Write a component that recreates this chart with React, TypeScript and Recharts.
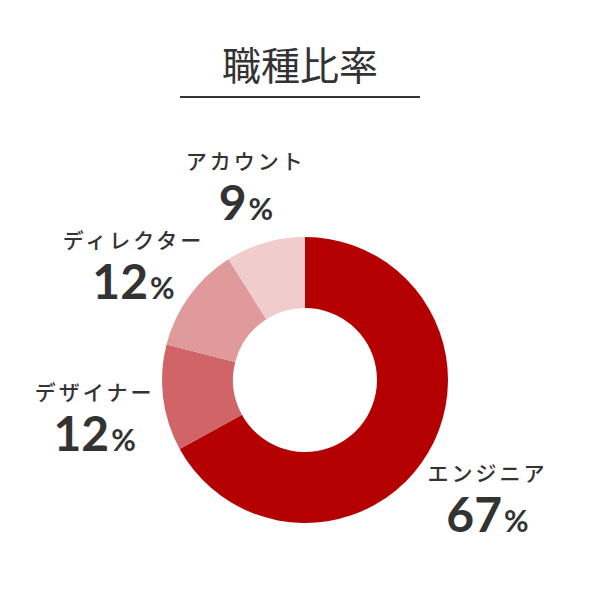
import React from "react";
import { PieChart, Pie, Cell } from "recharts";

const categories = ["エンジニア", "デザイナー", "ディレクター", "アカウント"];
const values = [67, 12, 12, 9];
const colors = ["#b40000", "#d16466", "#e19a9b", "#f0cccd"];

const data = categories.map((name, i) => ({ name, value: values[i] }));

const RAD = Math.PI / 180;

const renderLabel = (props: any) => {
  const { cx, cy, midAngle, name, value } = props;
  const r = 212;
  const x = cx + r * Math.cos(-midAngle * RAD);
  const y = cy + r * Math.sin(-midAngle * RAD);
  return (
    <g>
      <text
        x={x}
        y={y - 16}
        textAnchor="middle"
        dominantBaseline="central"
        fill="#333"
        fontSize={21}
        fontWeight={500}
        fontFamily="'Noto Sans CJK JP', sans-serif"
        letterSpacing={3}
      >
        {name}
      </text>
      <text
        x={x}
        y={y + 44}
        textAnchor="middle"
        fill="#333"
        fontFamily="Lato, sans-serif"
        fontWeight={700}
      >
        <tspan fontSize={48}>{value}</tspan>
        <tspan fontSize={30} dx={2}>%</tspan>
      </text>
    </g>
  );
};

export default function App() {
  return (
    <div style={{ position: "absolute", left: 0, top: 0, width: 600, height: 600, background: "#fff" }}>
      <svg width={600} height={600} style={{ position: "absolute", left: 0, top: 0 }}>
        <text
          x={300}
          y={63}
          textAnchor="middle"
          dominantBaseline="central"
          fill="#333"
          fontSize={39}
          fontFamily="'Noto Sans CJK JP', sans-serif"
        >
          職種比率
        </text>
        <line x1={180} y1={97} x2={420} y2={97} stroke="#333" strokeWidth={2} />
      </svg>
      <div style={{ position: "absolute", left: 0, top: 0 }}>
        <PieChart width={600} height={600} margin={{ top: 0, right: 0, bottom: 0, left: 0 }}>
          <Pie
            data={data}
            dataKey="value"
            nameKey="name"
            cx={305}
            cy={380}
            innerRadius={72}
            outerRadius={143}
            startAngle={90}
            endAngle={-270}
            stroke="none"
            label={renderLabel}
            labelLine={false}
            isAnimationActive={false}
          >
            {data.map((d, i) => (
              <Cell key={d.name} fill={colors[i]} />
            ))}
          </Pie>
        </PieChart>
      </div>
    </div>
  );
}
